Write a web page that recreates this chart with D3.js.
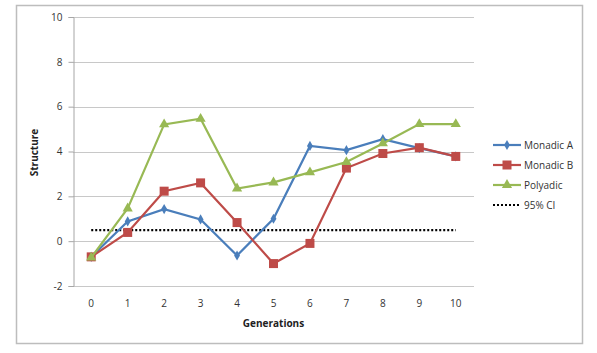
<!DOCTYPE html>
<html>
<head>
<meta charset="utf-8">
<script src="https://cdn.jsdelivr.net/npm/d3@7"></script>
<style>
body { margin: 0; background: #fff; }
text { font-family: "Open Sans", "Liberation Sans", sans-serif; }
</style>
</head>
<body>
<div id="root"></div>
<script>
var generations = ["0", "1", "2", "3", "4", "5", "6", "7", "8", "9", "10"];
var monadicA = [-0.7, 0.88, 1.43, 0.97, -0.64, 1.0, 4.25, 4.06, 4.55, 4.15, 3.78];
var monadicB = [-0.7, 0.39, 2.23, 2.6, 0.83, -1.0, -0.1, 3.26, 3.91, 4.17, 3.78];
var polyadic = [-0.73, 1.46, 5.21, 5.46, 2.35, 2.62, 3.07, 3.53, 4.36, 5.22, 5.22];
var ci95 = [0.49, 0.49, 0.49, 0.49, 0.49, 0.49, 0.49, 0.49, 0.49, 0.49, 0.49];
var yTicks = [-2, 0, 2, 4, 6, 8, 10];

var svgWidth = 597,
    svgHeight = 353,
    margin = {top: 17, left: 73, right: 123, bottom: 67},
    width = svgWidth - margin.left - margin.right,
    height = svgHeight - margin.top - margin.bottom;

var svgH = d3.select("#root").append("svg")
    .attr("width", svgWidth)
    .attr("height", svgHeight);

// chart frame
svgH.append("rect")
    .attr("x", 16.5).attr("y", 5.5)
    .attr("width", 566).attr("height", 338)
    .attr("fill", "#fff")
    .attr("stroke", "#bdbdbd")
    .attr("stroke-width", 1.5);

var svg = svgH.append("g")
    .attr("transform", "translate(" + margin.left + "," + margin.top + ")");

var x = d3.scaleBand().domain(generations).range([0, width]);
var y = d3.scaleLinear().domain([-2, 10]).range([height, 0]);

// gridlines
svg.append("g").selectAll("line")
    .data(yTicks)
    .enter().append("line")
    .attr("x1", 0).attr("x2", width)
    .attr("y1", function (d) { return Math.round(y(d)) + 0.5; })
    .attr("y2", function (d) { return Math.round(y(d)) + 0.5; })
    .attr("stroke", "#c8c8c8");

// y axis
var yAxis = svg.append("g")
    .attr("transform", "translate(0.5,0)")
    .call(d3.axisLeft(y).tickValues(yTicks).tickSize(5).tickPadding(6)
        .tickFormat(function (d) { return String(d); }));
yAxis.select(".domain").attr("stroke", "#a6a6a6");
yAxis.selectAll(".tick line").attr("stroke", "#a6a6a6");
yAxis.selectAll("text").attr("font-size", 10).attr("fill", "#333");

// x axis labels
svg.append("g").selectAll("text")
    .data(generations)
    .enter().append("text")
    .attr("x", function (d) { return x(d) + x.bandwidth() / 2; })
    .attr("y", height + 21)
    .attr("text-anchor", "middle")
    .attr("font-size", 10)
    .attr("fill", "#333")
    .text(function (d) { return d; });

svg.append("text")
    .attr("x", width / 2)
    .attr("y", height + 41)
    .attr("text-anchor", "middle")
    .attr("font-size", 10)
    .attr("font-weight", "bold")
    .attr("fill", "#222")
    .text("Generations");

svg.append("text")
    .attr("transform", "translate(-35," + (y(4) + 1) + ") rotate(-90)")
    .attr("text-anchor", "middle")
    .attr("font-size", 10)
    .attr("font-weight", "bold")
    .attr("fill", "#222")
    .text("Structure");

var series = [
    {name: "Monadic A", values: monadicA, color: "#4a7ebb", marker: "diamond"},
    {name: "Monadic B", values: monadicB, color: "#be4b48", marker: "square"},
    {name: "Polyadic", values: polyadic, color: "#98b954", marker: "triangle"},
    {name: "95% CI", values: ci95, color: "#000", marker: null}
];

var line = d3.line()
    .x(function (d, i) { return x(generations[i]) + x.bandwidth() / 2; })
    .y(function (d) { return y(d); });

function drawMarker(g, type, color) {
    if (type === "diamond") {
        g.append("path").attr("d", d3.symbol(d3.symbolDiamond, 30)).attr("fill", color);
    } else if (type === "square") {
        g.append("rect").attr("x", -4.5).attr("y", -4.5).attr("width", 9).attr("height", 9).attr("fill", color);
    } else if (type === "triangle") {
        g.append("path").attr("d", d3.symbol(d3.symbolTriangle, 45)).attr("fill", color);
    }
}

// draw CI first, then the three series
[series[3], series[0], series[1], series[2]].forEach(function (s) {
    svg.append("path")
        .datum(s.values)
        .attr("fill", "none")
        .attr("stroke", s.color)
        .attr("stroke-width", 2.2)
        .attr("stroke-dasharray", s.marker ? null : "2,2")
        .attr("d", line);
    if (s.marker) {
        svg.append("g").selectAll("g")
            .data(s.values)
            .enter().append("g")
            .attr("transform", function (d, i) {
                return "translate(" + (x(generations[i]) + x.bandwidth() / 2) + "," + y(d) + ")";
            })
            .each(function () { drawMarker(d3.select(this), s.marker, s.color); });
    }
});

// legend
var legend = svgH.append("g")
    .selectAll("g")
    .data(series)
    .enter().append("g")
    .attr("transform", function (d, i) {
        return "translate(493," + (145 + i * 20) + ")";
    });

legend.append("line")
    .attr("x1", 0).attr("x2", 28)
    .attr("stroke", function (d) { return d.color; })
    .attr("stroke-width", 2.2)
    .attr("stroke-dasharray", function (d) { return d.marker ? null : "2,2"; });

legend.append("g")
    .attr("transform", "translate(14,0)")
    .each(function (d) { drawMarker(d3.select(this), d.marker, d.color); });

legend.append("text")
    .attr("x", 31)
    .attr("dy", "0.35em")
    .attr("font-size", 10)
    .attr("fill", "#333")
    .text(function (d) { return d.name; });
</script>
</body>
</html>
